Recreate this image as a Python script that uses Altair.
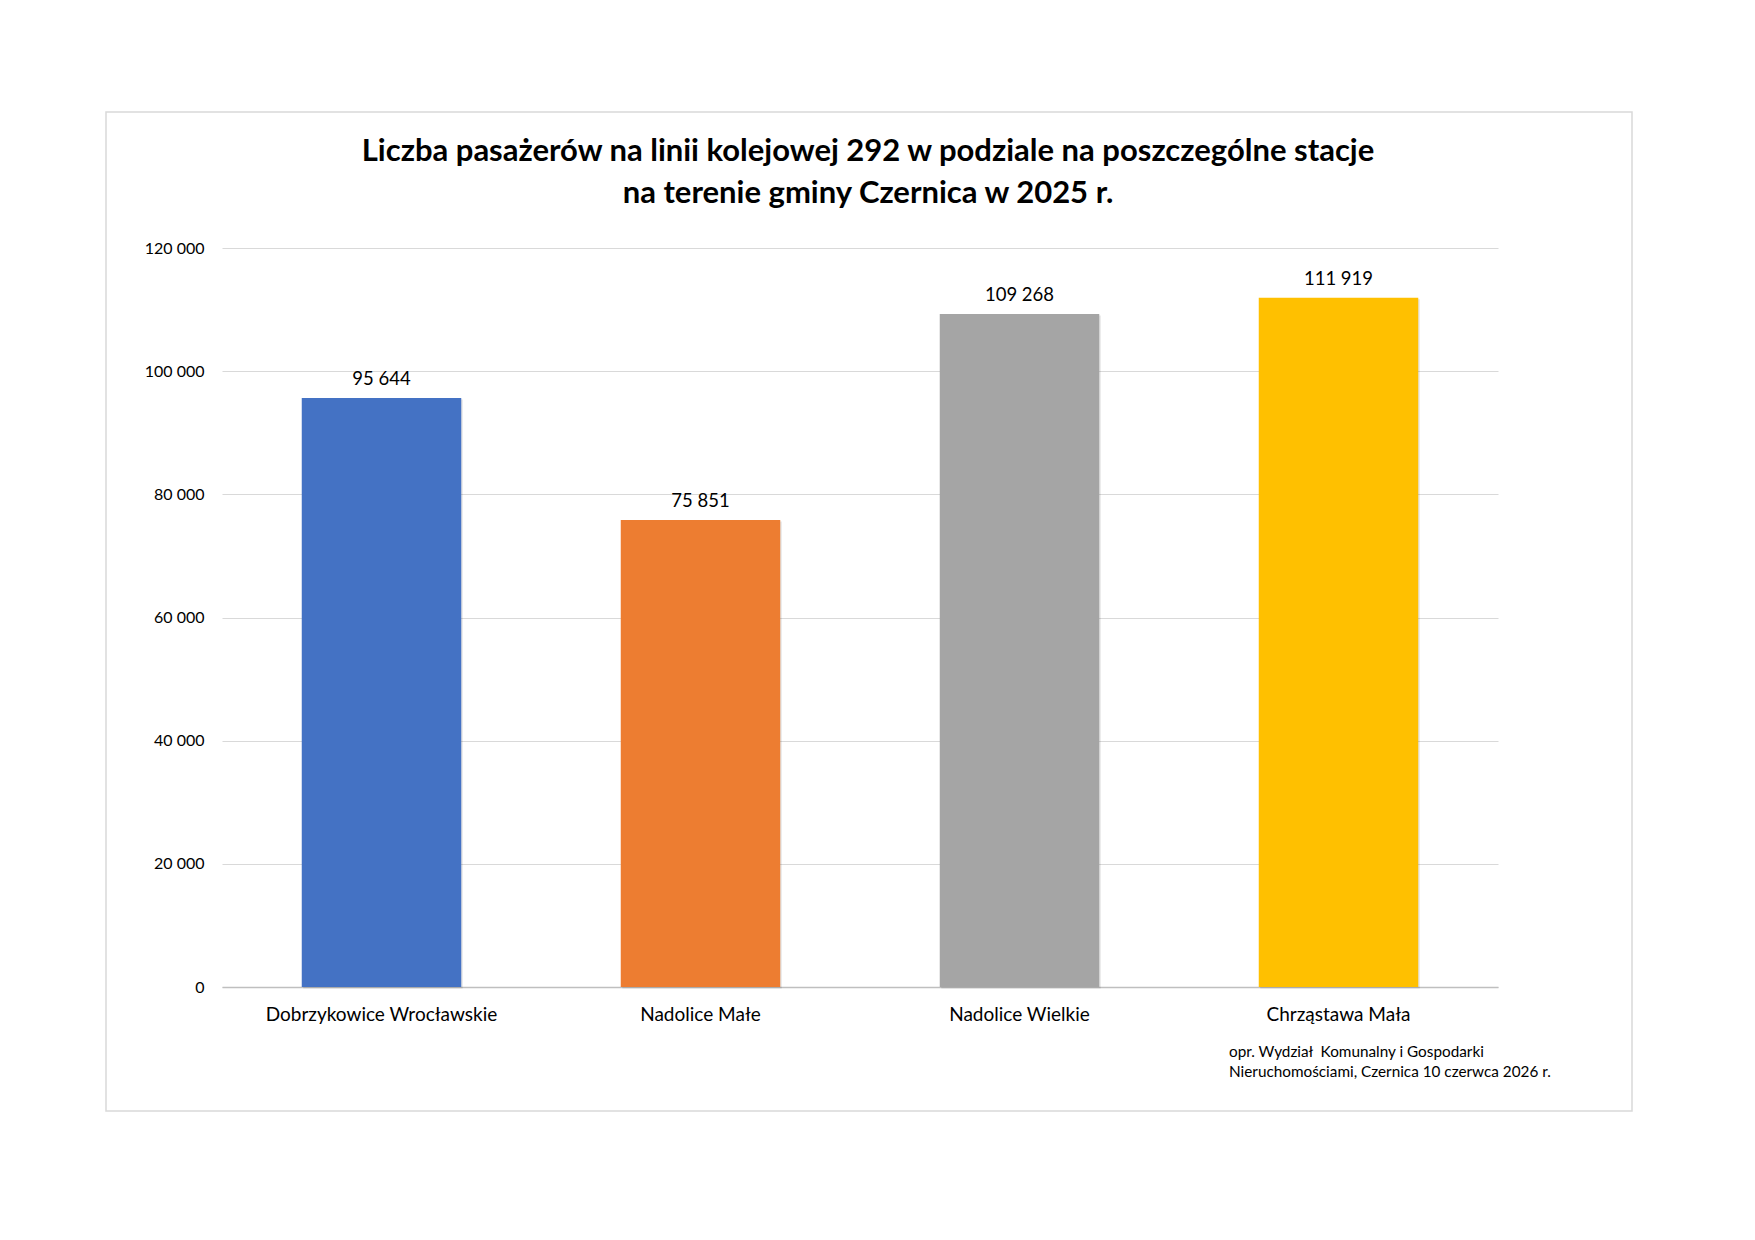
import altair as alt
import pandas as pd

stations = ["Dobrzykowice Wrocławskie", "Nadolice Małe", "Nadolice Wielkie", "Chrząstawa Mała"]
passengers = [95644, 75851, 109268, 111919]
colors = ["#4472C4", "#ED7D31", "#A5A5A5", "#FFC000"]
y_ticks = [0, 20000, 40000, 60000, 80000, 100000, 120000]
title_lines = [
    "Liczba pasażerów na linii kolejowej 292 w podziale na poszczególne stacje",
    "na terenie gminy Czernica w 2025 r.",
]
note_text = "opr. Wydział\u00a0 Komunalny i Gospodarki\nNieruchomościami, Czernica 10 czerwca 2026 r."

FONT = "Lato"

df = pd.DataFrame({"station": stations, "value": passengers})

x_enc = alt.X(
    "station:N",
    sort=stations,
    scale=alt.Scale(paddingInner=0.5, paddingOuter=0.25),
    axis=alt.Axis(
        title=None, labelAngle=0, ticks=False, domain=True, domainColor="#bfbfbf",
        domainWidth=1.5, labelFontSize=19, labelPadding=18, labelColor="#000000",
        labelFont=FONT, labelLimit=0,
    ),
)
y_enc = alt.Y(
    "value:Q",
    scale=alt.Scale(domain=[0, 120000]),
    axis=alt.Axis(
        title=None, values=y_ticks, format=",d", grid=True, gridColor="#d9d9d9",
        gridWidth=1.2, domain=False, ticks=False, labelPadding=18, labelFontSize=16,
        labelColor="#000000", labelFont=FONT,
    ),
)

base = alt.Chart(df).encode(x=x_enc, y=y_enc)

shadow = base.mark_bar(color="#000000", opacity=0.10, xOffset=1.5, yOffset=1.5)
bars = base.mark_bar().encode(
    color=alt.Color("station:N", scale=alt.Scale(domain=stations, range=colors), legend=None)
)
labels = base.mark_text(baseline="bottom", dy=-9, fontSize=18.5, font=FONT, color="#000000").encode(
    text=alt.Text("value:Q", format=",d")
)

frame = alt.Chart(pd.DataFrame({"k": [0]})).mark_rect(
    fill=None, stroke="#d9d9d9", strokeWidth=1.5
).encode(
    x=alt.value(-116), x2=alt.value(1410), y=alt.value(-136), y2=alt.value(863)
)

note = alt.Chart(pd.DataFrame({"k": [0]})).mark_text(
    align="left", baseline="middle", fontSize=15.3, font=FONT, color="#000000",
    lineBreak="\n", lineHeight=20,
).encode(x=alt.value(1007), y=alt.value(804), text=alt.value(note_text))

chart = (
    alt.layer(frame, shadow, bars, labels, note)
    .properties(
        width=1276,
        height=739,
        padding={"left": 214, "top": 240, "right": 170, "bottom": 150},
        autosize=alt.AutoSizeParams(type="none"),
        title=alt.TitleParams(
            title_lines, fontSize=31, font=FONT, fontWeight="bold", color="#000000",
            lineHeight=42, anchor="middle", offset=-99, dx=8,
        ),
    )
    .configure(locale={"number": {"decimal": ",", "thousands": "\u00a0", "grouping": [3], "currency": ["", " zł"]}})
    .configure_view(stroke=None)
    .configure_axis(labelFont=FONT)
)

chart.save("out.html", embed_options={"renderer": "svg", "actions": False})
